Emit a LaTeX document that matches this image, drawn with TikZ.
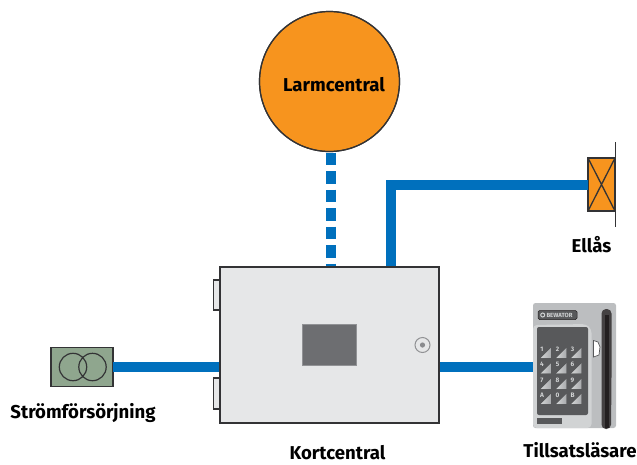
\documentclass[tikz,border=0pt]{standalone}
\usepackage{fontspec}
\setmainfont{Fira Sans}
\definecolor{wire}{HTML}{0070BD}
\definecolor{orangeF}{HTML}{F7941E}
\definecolor{edge}{HTML}{333335}
\definecolor{boxfill}{HTML}{E6E7E8}
\definecolor{screenF}{HTML}{6D6E71}
\definecolor{psuF}{HTML}{8FA68E}
\definecolor{readerF}{HTML}{BCBEC0}
\definecolor{readerL}{HTML}{D1D3D4}
\definecolor{padF}{HTML}{58595B}
\definecolor{slotF}{HTML}{231F20}
\tikzset{
  wireline/.style={draw=wire,line width=10pt},
  dashwire/.style={wireline,dash pattern=on 12.6pt off 5.9pt},
  label/.style={font=\bfseries\fontsize{18.6}{20}\selectfont,text=black,inner sep=0pt,anchor=base},
  block/.style={draw=edge,inner sep=0pt,outer sep=0pt},
  keytri/.style={left color=readerL!95!white,right color=readerF!80!padF},
  keydigit/.style={font=\bfseries\fontsize{6.5}{6.5}\selectfont,text=readerL,inner sep=0pt}
}
\begin{document}
\begin{tikzpicture}[x=1pt,y=-1pt]
\useasboundingbox (0,0) rectangle (637,464);
% tabs
\draw[edge,line width=1.1pt,fill=boxfill] (220,280) -- (213.5,280) -- (213.5,310) -- (220,310);
\draw[edge,line width=1.1pt,fill=boxfill] (220,378) -- (213.5,378) -- (213.5,409) -- (220,409);
% nodes
\node[block,circle,fill=orangeF,line width=1.2pt,minimum size=140pt] (alarm) at (329.5,81.5) {};
\node[block,rectangle,fill=boxfill,line width=1.3pt,minimum width=219pt,minimum height=156pt] (central) at (329.5,345) {};
\node[block,rectangle,fill=psuF,line width=1.2pt,minimum width=62pt,minimum height=39pt] (psu) at (82,367) {};
\node[block,rectangle,fill=orangeF,line width=1.3pt,minimum width=27pt,minimum height=53pt] (lock) at (601.5,184.5) {};
\node[rectangle,fill=readerF,rounded corners=2.5pt,inner sep=0pt,minimum width=83pt,minimum height=125pt] (reader) at (574.5,365.5) {};
\coordinate (wallT) at (615.5,142);
\coordinate (wallB) at (615.5,227);
\coordinate (corner) at (391,184.5);
\coordinate (exitT) at (391,267);
% connectors
\draw[dashwire] (330.5,152.5) -- (330.5,267);
\draw[wireline] (exitT) -- (corner) -- (lock.west);
\draw[wireline] (psu.east) -- (central.west |- psu.east);
\draw[wireline] (central.east |- psu.east) -- (reader.west |- psu.east);
% redraw box outlines over wire ends
\draw[edge,line width=1.3pt] (central.north west) rectangle (central.south east);
\draw[edge,line width=1.2pt] (alarm) circle (70pt);
% central details
\node[draw=screenF!75!white,fill=screenF,line width=1pt,inner sep=0pt,minimum width=54pt,minimum height=41pt] (screen) at (329.8,345) {};
\node[circle,draw=screenF!75!white,fill=boxfill,line width=1pt,inner sep=0pt,minimum size=15pt] (knob) at (422.5,345) {};
\fill[screenF!80!white] (knob) circle (2.6pt);
% psu
\draw[edge,line width=1.2pt] (73,367) circle (13.7pt) (92.5,367) circle (13.7pt);
% lock
\draw[edge,line width=1.3pt] (lock.north west) -- (lock.south east) (lock.north east) -- (lock.south west);
\draw[edge,line width=1.3pt] (wallT) -- (wallB);
% reader details
\fill[readerL,rounded corners=4pt] (533,325) -- (586,324) -- (591.5,329) -- (591.5,428) -- (533,428) -- cycle;
\node[fill=padF,rounded corners=2pt,inner sep=0pt,minimum width=51pt,minimum height=88pt] (pad) at (562.5,371) {};
\fill[padF] (537,418) rectangle (562,424);
\fill[slotF!85!white,rounded corners=4.5pt] (601.5,429) -- (601.5,309) -- (611.5,309) -- (611.5,379) -- (611,429) -- cycle;
\fill[slotF] (604.5,428) -- (604.5,315) -- (608.5,315) -- (608.5,428) -- cycle;
\draw[fill=white,draw=padF,line width=.7pt] (593.5,340.5) -- (598,342) -- (600,347) -- (599,355) -- (593.5,357) -- cycle;
\node[fill=padF,draw=slotF,line width=.5pt,rounded corners=1.5pt,inner sep=0pt,minimum width=39pt,minimum height=9pt] (logo) at (557.5,315) {};
\draw[readerL,line width=1pt] (542.7,315) circle (2pt);
\node[inner sep=0pt,font=\bfseries\fontsize{6}{6}\selectfont,text=readerL,anchor=west] at (546.3,315.2) {BEWATOR};
% keys
\foreach \x/\y/\t in {551/358/1,566.5/358/2,581.5/358/3,551/373.5/4,566.5/373.5/5,581.5/373.5/6,551/389/7,566.5/389/8,581.5/389/9,551/404/A,566.5/404/0,581.5/404/B}{
  \fill[keytri] (\x,\y) -- (\x-10.5,\y) -- (\x,\y-10.5) -- cycle;
  \node[keydigit] at (\x-9,\y-8.8) {\t};
}
% labels
\node[label] (t1) at (334,91) {Larmcentral};
\node[label] (t2) at (591.5,252) {Ellås};
\node[label] (t3) at (83,418) {Strömförsörjning};
\node[label] (t4) at (337.5,459) {Kortcentral};
\node[label] (t5) at (580,457.5) {Tillsatsläsare};
\end{tikzpicture}
\end{document}
